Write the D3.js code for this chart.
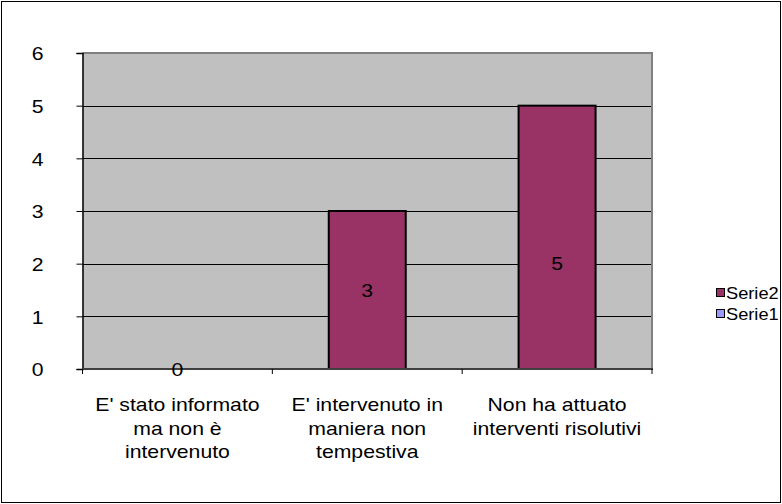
<!DOCTYPE html>
<html>
<head>
<meta charset="utf-8">
<script src="https://cdn.jsdelivr.net/npm/d3@7"></script>
<style>
  html, body { margin: 0; padding: 0; background: #fff; }
  svg { display: block; }
  text { font-family: "Liberation Sans", Arial, sans-serif; fill: #000; }
</style>
</head>
<body>
<svg id="chart" width="782" height="504"></svg>
<script>
// Category labels (each entry split into its drawn lines)
const categories = [
  ["E' stato informato", "ma non è", "intervenuto"],
  ["E' intervenuto in", "maniera non", "tempestiva"],
  ["Non ha attuato", "interventi risolutivi"]
];
// Serie2 values per category
const serie2 = [0, 3, 5];
// Serie1 has no values shown
const serie1 = [0, 0, 0];
// value (in axis units) at which each data label sits
const labelAt = [0, 1.5, 2];
const yTicks = [0, 1, 2, 3, 4, 5, 6];
const legendItems = ["Serie2", "Serie1"];
const legendColors = ["#993366", "#9999FF"];

const svg = d3.select("#chart");
const W = 782, H = 504;
const plot = { left: 82.5, right: 652, top: 53, bottom: 369 };
const FS = 18.6, SX = 1.14;   // font size and horizontal stretch of the text

// outer frame
svg.append("rect")
  .attr("x", 1.5).attr("y", 1.5)
  .attr("width", W - 3).attr("height", H - 3)
  .attr("fill", "none").attr("stroke", "#000").attr("stroke-width", 1);

const x = d3.scaleBand()
  .domain(d3.range(categories.length))
  .range([plot.left, plot.right])
  .paddingInner(0).paddingOuter(0);

const y = d3.scaleLinear().domain([0, 6]).range([plot.bottom, plot.top]);

// plot background
svg.append("rect")
  .attr("x", plot.left).attr("y", plot.top)
  .attr("width", plot.right - plot.left).attr("height", plot.bottom - plot.top)
  .attr("fill", "#C0C0C0");

// gridlines
svg.append("g")
  .selectAll("line")
  .data(yTicks.filter(t => t > 0 && t < 6))
  .join("line")
  .attr("x1", plot.left).attr("x2", plot.right)
  .attr("y1", d => Math.round(y(d)) + 0.5).attr("y2", d => Math.round(y(d)) + 0.5)
  .attr("stroke", "#000").attr("stroke-width", 1);

// plot frame: grey top and right edges
svg.append("path")
  .attr("d", `M${plot.left},${plot.top} H${plot.right} V${plot.bottom}`)
  .attr("fill", "none").attr("stroke", "#808080").attr("stroke-width", 2);

// bars
const bw = 77;
svg.append("g")
  .selectAll("rect")
  .data(serie2)
  .join("rect")
  .attr("x", (d, i) => x(i) + x.bandwidth() / 2 - bw / 2)
  .attr("y", d => y(d))
  .attr("width", bw)
  .attr("height", d => y(0) - y(d))
  .attr("fill", "#993366")
  .attr("stroke", "#000").attr("stroke-width", 2)
  .attr("display", d => d > 0 ? null : "none");

// y axis
const yAxis = d3.axisLeft(y).tickValues(yTicks).tickSize(6).tickPadding(33)
  .tickFormat(d3.format("d"));
const gy = svg.append("g").attr("transform", `translate(${plot.left},0)`).call(yAxis);
gy.select(".domain").attr("stroke", "#000").attr("stroke-width", 1.5);
gy.selectAll(".tick line").attr("stroke", "#000");
gy.selectAll(".tick text")
  .attr("font-size", FS)
  .attr("dy", "0.36em")
  .attr("transform", function () {
    const xx = +d3.select(this).attr("x");
    return `translate(${xx * (1 - SX)},0) scale(${SX},1)`;
  })
  .style("font-family", "'Liberation Sans', Arial, sans-serif");

// x axis line and category separator ticks
svg.append("line")
  .attr("x1", plot.left).attr("x2", plot.right + 1)
  .attr("y1", plot.bottom).attr("y2", plot.bottom)
  .attr("stroke", "#404040").attr("stroke-width", 2);
svg.append("g")
  .selectAll("line")
  .data(d3.range(categories.length + 1))
  .join("line")
  .attr("x1", i => (i < categories.length ? x(i) : plot.right))
  .attr("x2", i => (i < categories.length ? x(i) : plot.right))
  .attr("y1", plot.bottom).attr("y2", plot.bottom + 5)
  .attr("stroke", "#000");

// helper for stretched text
function stretched(g, cx, cy, str, size, anchor) {
  g.append("text")
    .attr("transform", `translate(${cx},${cy}) scale(${SX},1)`)
    .attr("text-anchor", anchor || "middle")
    .attr("font-size", size)
    .text(str);
}

// category labels
const lab = svg.append("g");
categories.forEach((lines, i) => {
  const cx = x(i) + x.bandwidth() / 2;
  lines.forEach((ln, j) => stretched(lab, cx, 411 + j * 23.5, ln, FS));
});

// value labels inside the bars
const vl = svg.append("g");
serie2.forEach((v, i) => {
  const cx = x(i) + x.bandwidth() / 2;
  const cy = y(labelAt[i]);
  stretched(vl, cx, cy + FS * 0.36, String(v), FS);
});

// legend
const lg = svg.append("g");
legendItems.forEach((name, i) => {
  const yy = 293 + i * 21;
  lg.append("rect")
    .attr("x", 716.5).attr("y", yy - 4.5).attr("width", 8).attr("height", 8)
    .attr("fill", legendColors[i]).attr("stroke", "#000");
  stretched(lg, 726, yy + 5.5, name, 16, "start");
});
</script>
</body>
</html>
